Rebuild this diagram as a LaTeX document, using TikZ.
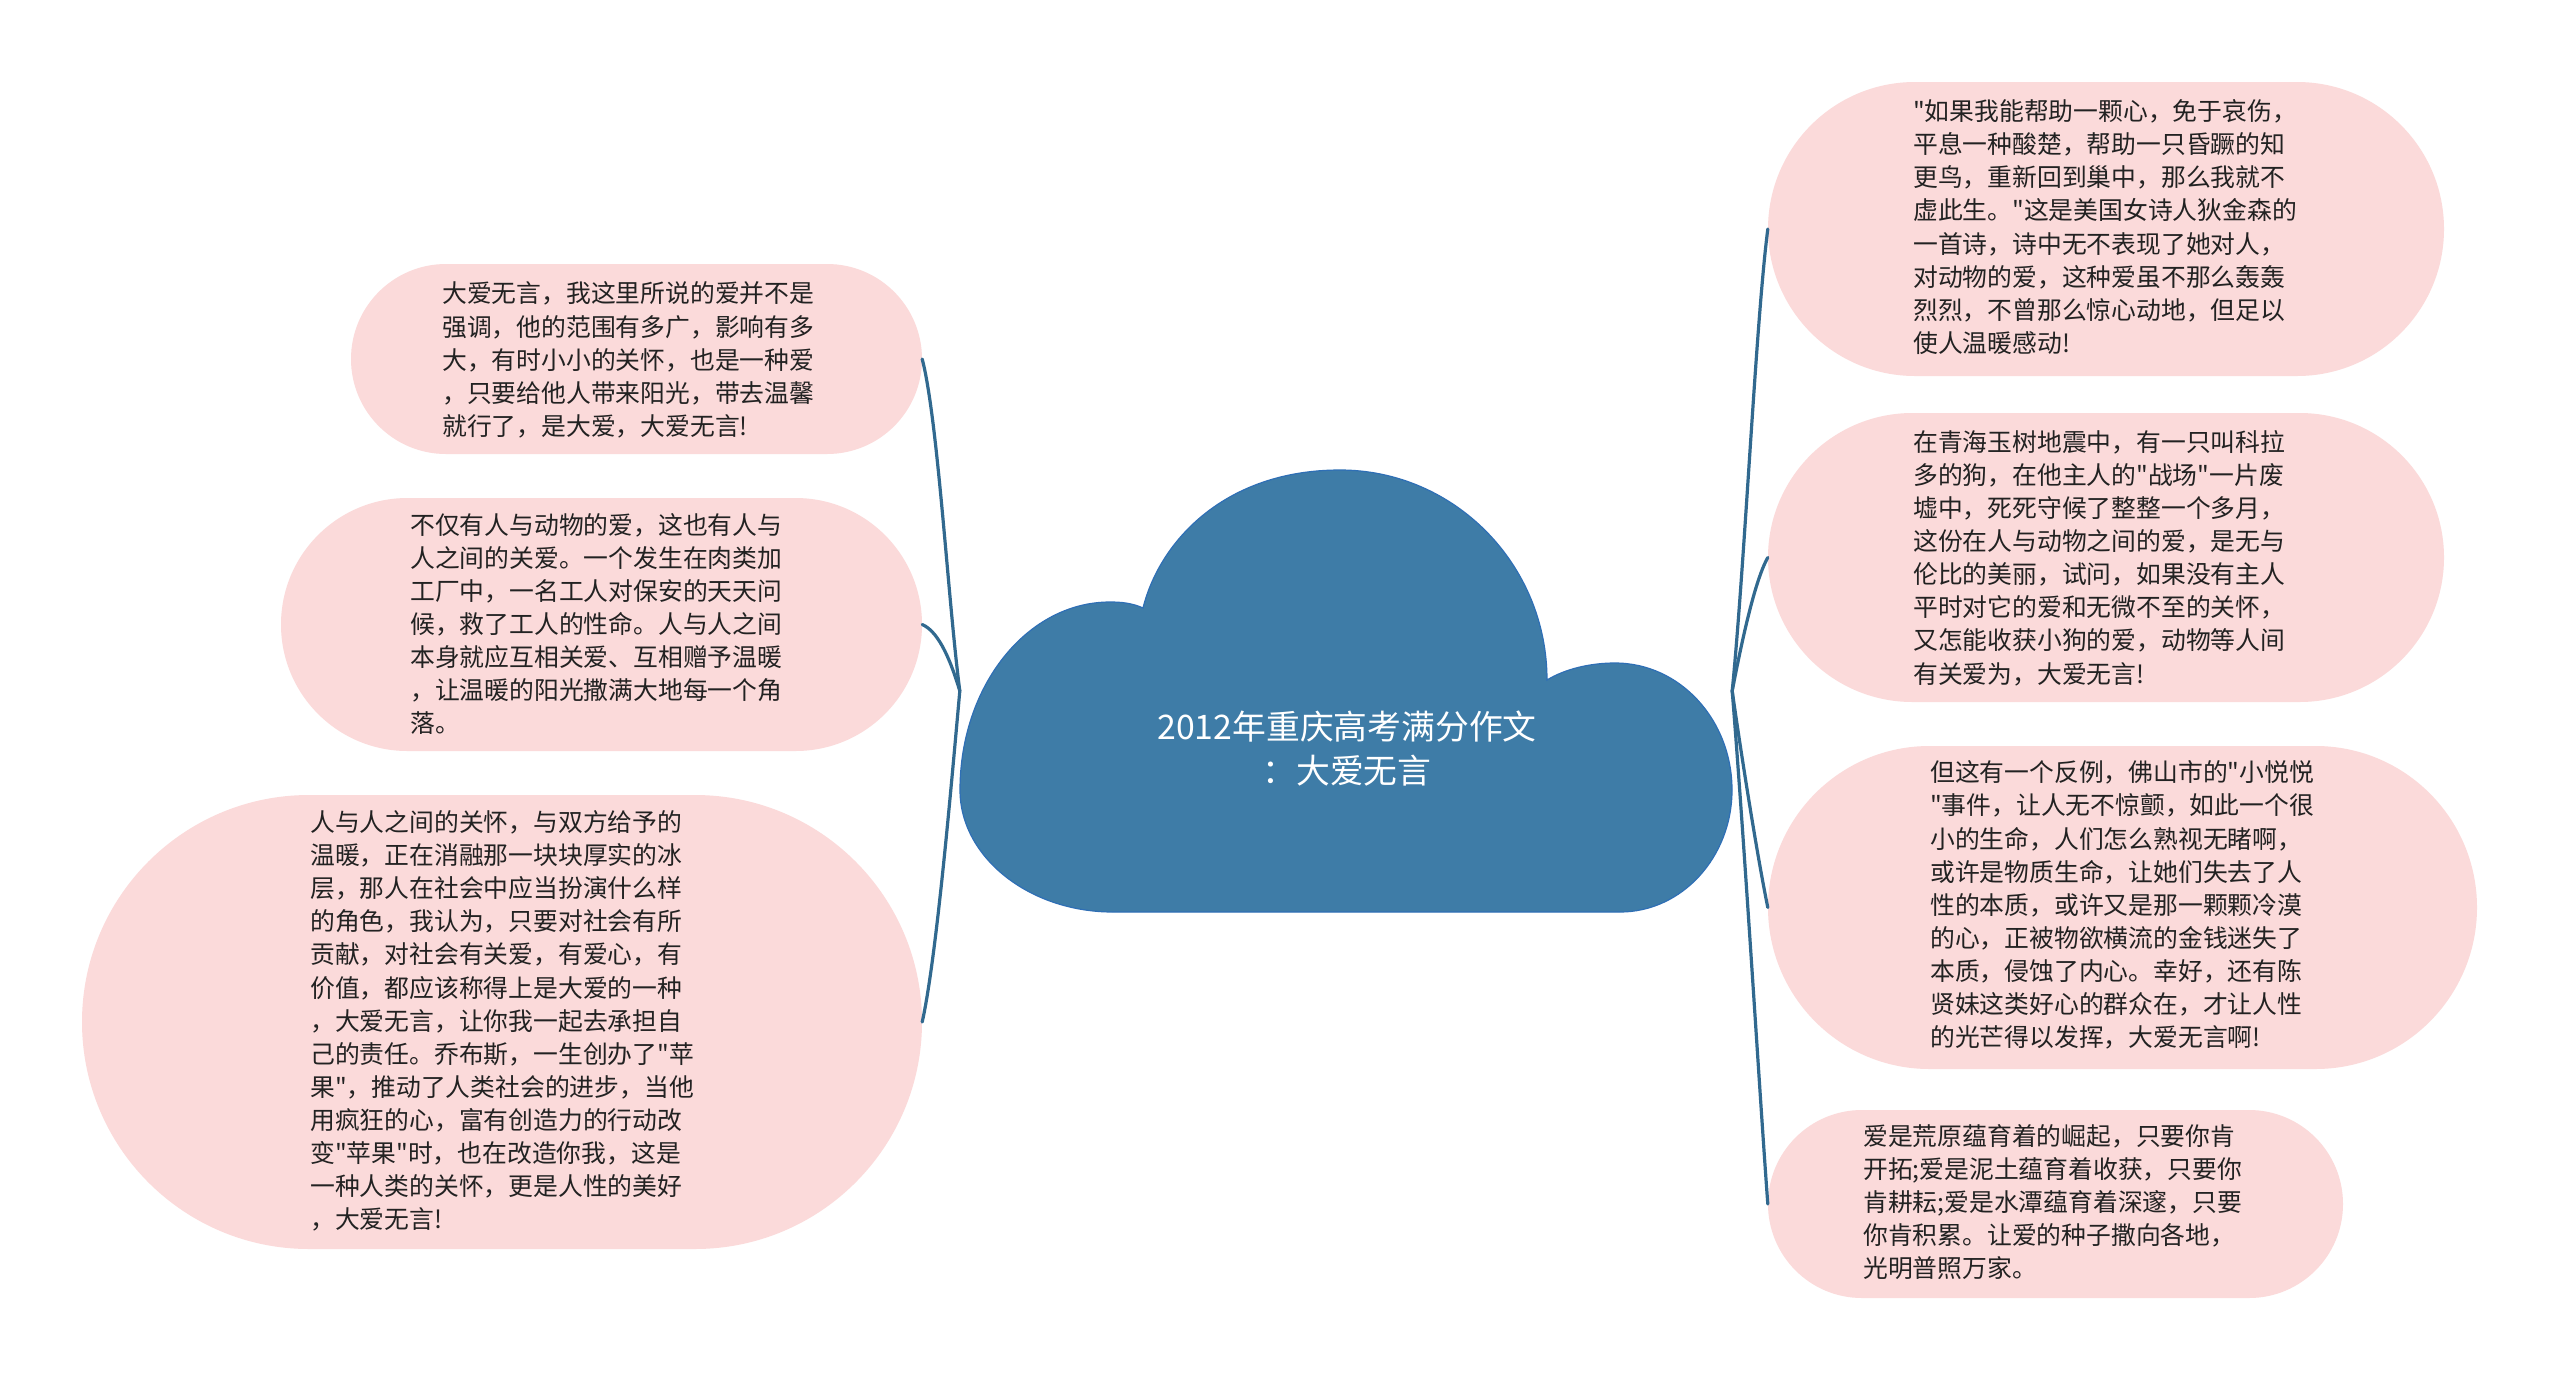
\documentclass[tikz,border=0pt]{standalone}
\usepackage{fontspec}
\setmainfont{Noto Sans CJK SC}
\setmonofont{Noto Sans CJK SC}
\usetikzlibrary{shapes.misc}
\definecolor{bubblefill}{HTML}{FBDADA}
\definecolor{cloudfill}{HTML}{3E7CA7}
\definecolor{cloudline}{HTML}{2F6FB5}
\definecolor{linkcol}{HTML}{31698F}
\definecolor{txtcol}{HTML}{222222}
\tikzset{
  bubble/.style={rounded rectangle, fill=bubblefill, draw=none, inner sep=0pt},
  bodytext/.style={anchor=west, align=left, inner sep=0pt, text=txtcol, font=\ttfamily\fontsize{24.8}{33.1}\selectfont},
  link/.style={draw=linkcol, line width=3.2pt, line cap=round},
  titletext/.style={align=center, text=white, font=\fontsize{33.8}{44}\selectfont, inner sep=0pt},
  cloudarea/.style={minimum width=772pt, minimum height=442pt, inner sep=0pt}
}
\begin{document}
\begin{tikzpicture}[x=1pt,y=-1pt]
\useasboundingbox[fill=white] (0,0) rectangle (2560,1382);

\node[cloudarea] (cloud) at (1346,691) {};

% left bubbles
\node[bubble, minimum width=571pt, minimum height=190pt] (l1) at (636.5,359) {};
\node[bodytext] (l1t) at (442,360) {大爱无言，我这里所说的爱并不是\\强调，他的范围有多广，影响有多\\大，有时小小的关怀，也是一种爱\\，只要给他人带来阳光，带去温馨\\就行了，是大爱，大爱无言!};

\node[bubble, minimum width=641pt, minimum height=253pt] (l2) at (601.5,624.5) {};
\node[bodytext] (l2t) at (410,624) {不仅有人与动物的爱，这也有人与\\人之间的关爱。一个发生在肉类加\\工厂中，一名工人对保安的天天问\\候，救了工人的性命。人与人之间\\本身就应互相关爱、互相赠予温暖\\，让温暖的阳光撒满大地每一个角\\落。};

\node[bubble, minimum width=840pt, minimum height=454pt] (l3) at (502,1022) {};
\node[bodytext] (l3t) at (310,1021) {人与人之间的关怀，与双方给予的\\温暖，正在消融那一块块厚实的冰\\层，那人在社会中应当扮演什么样\\的角色，我认为，只要对社会有所\\贡献，对社会有关爱，有爱心，有\\价值，都应该称得上是大爱的一种\\，大爱无言，让你我一起去承担自\\己的责任。乔布斯，一生创办了"苹\\果"，推动了人类社会的进步，当他\\用疯狂的心，富有创造力的行动改\\变"苹果"时，也在改造你我，这是\\一种人类的关怀，更是人性的美好\\，大爱无言!};

% right bubbles
\node[bubble, minimum width=676pt, minimum height=294pt] (r1) at (2106,229) {};
\node[bodytext] (r1t) at (1913,227) {"如果我能帮助一颗心，免于哀伤，\\平息一种酸楚，帮助一只昏蹶的知\\更鸟，重新回到巢中，那么我就不\\虚此生。"这是美国女诗人狄金森的\\一首诗，诗中无不表现了她对人，\\对动物的爱，这种爱虽不那么轰轰\\烈烈，不曾那么惊心动地，但足以\\使人温暖感动!};

\node[bubble, minimum width=676pt, minimum height=289pt] (r2) at (2106,557.5) {};
\node[bodytext] (r2t) at (1913,558) {在青海玉树地震中，有一只叫科拉\\多的狗，在他主人的"战场"一片废\\墟中，死死守候了整整一个多月，\\这份在人与动物之间的爱，是无与\\伦比的美丽，试问，如果没有主人\\平时对它的爱和无微不至的关怀，\\又怎能收获小狗的爱，动物等人间\\有关爱为，大爱无言!};

\node[bubble, minimum width=709pt, minimum height=323pt] (r3) at (2122.5,907.5) {};
\node[bodytext] (r3t) at (1930,905) {但这有一个反例，佛山市的"小悦悦\\"事件，让人无不惊颤，如此一个很\\小的生命，人们怎么熟视无睹啊，\\或许是物质生命，让她们失去了人\\性的本质，或许又是那一颗颗冷漠\\的心，正被物欲横流的金钱迷失了\\本质，侵蚀了内心。幸好，还有陈\\贤妹这类好心的群众在，才让人性\\的光芒得以发挥，大爱无言啊!};

\node[bubble, minimum width=575pt, minimum height=188pt] (r4) at (2055.5,1204) {};
\node[bodytext] (r4t) at (1863,1202) {爱是荒原蕴育着的崛起，只要你肯\\开拓;爱是泥土蕴育着收获，只要你\\肯耕耘;爱是水潭蕴育着深邃，只要\\你肯积累。让爱的种子撒向各地，\\光明普照万家。};

% connectors
\draw[link] (cloud.west) .. controls (948,600) and (938,420) .. (l1.east);
\draw[link] (cloud.west) .. controls (952,665) and (940,632) .. (l2.east);
\draw[link] (cloud.west) .. controls (950,800) and (936,960) .. (l3.east);
\draw[link] (cloud.east) .. controls (1745,560) and (1756,320) .. (r1.west);
\draw[link] (cloud.east) .. controls (1742,640) and (1755,580) .. (r2.west);
\draw[link] (cloud.east) .. controls (1742,760) and (1758,860) .. (r3.west);
\draw[link] (cloud.east) .. controls (1745,850) and (1760,1100) .. (r4.west);

% cloud
\path[fill=cloudfill, draw=cloudline, line width=1.2pt]
  (1113,912) -- (1620,912)
  .. controls (1682,912) and (1732,857) .. (1732,790)
  .. controls (1732,720) and (1680,663) .. (1615,663)
  .. controls (1590,663) and (1565,669) .. (1547,680)
  .. controls (1547,564) and (1454,470) .. (1340,470)
  .. controls (1226,470) and (1160,540) .. (1143,608)
  .. controls (1132,603) and (1121,602) .. (1110,602)
  .. controls (1027,602) and (960,686) .. (960,790)
  .. controls (960,857) and (1029,912) .. (1113,912) -- cycle;

\node[titletext] (title) at (1347,749) {2012年重庆高考满分作文\\：大爱无言};
\end{tikzpicture}
\end{document}
